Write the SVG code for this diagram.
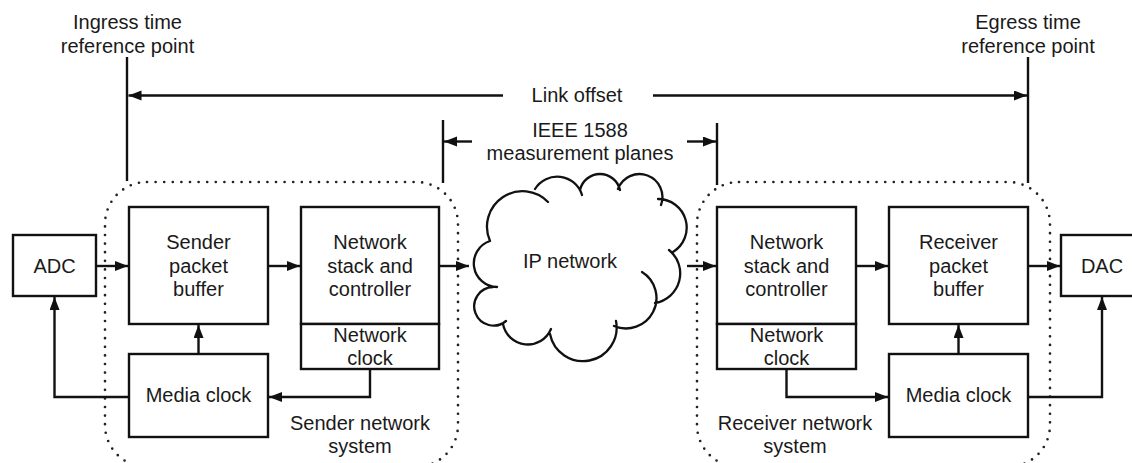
<svg xmlns="http://www.w3.org/2000/svg" width="1132" height="463" viewBox="0 0 1132 463">
  <defs>
    <marker id="arrow" markerUnits="userSpaceOnUse" markerWidth="14" markerHeight="12" refX="13" refY="5" orient="auto">
      <path d="M0,0 L13,5 L0,10 z" fill="#111"/>
    </marker>
    <style>
      .box { fill: #fff; stroke: #111; stroke-width: 2.4; }
      .dot { fill: none; stroke: #222; stroke-width: 2.7; stroke-linecap: round; stroke-dasharray: 0 8.6; }
      .ln { fill: none; stroke: #111; stroke-width: 2.4; }
      .arr { fill: none; stroke: #111; stroke-width: 2.4; marker-end: url(#arrow); }
      .cloud { fill: none; stroke: #111; stroke-width: 2.3; stroke-linecap: round; }
      text { font-family: "Liberation Sans", Arial, sans-serif; font-size: 20px; fill: #1a1a1a; text-anchor: middle; }
    </style>
  </defs>
  <rect width="1132" height="463" fill="#fff"/>

  <!-- system boundaries -->
  <g id="sender-system">
    <rect class="dot" x="105" y="182" width="353" height="285" rx="42"/>
    <text x="360" y="430">Sender network</text>
    <text x="360" y="453">system</text>
  </g>
  <g id="receiver-system">
    <rect class="dot" x="697" y="182" width="353" height="285" rx="42"/>
    <text x="795" y="430">Receiver network</text>
    <text x="795" y="453">system</text>
  </g>

  <!-- reference labels -->
  <g id="ingress">
    <text x="127.5" y="29">Ingress time</text>
    <text x="127.5" y="52.5">reference point</text>
    <path class="ln" d="M127,57 V181"/>
  </g>
  <g id="egress">
    <text x="1028" y="29">Egress time</text>
    <text x="1028" y="52.5">reference point</text>
    <path class="ln" d="M1028,57 V183"/>
  </g>
  <g id="link-offset">
    <text x="577" y="102">Link offset</text>
  </g>
  <g id="ieee1588">
    <text x="580" y="137">IEEE 1588</text>
    <text x="580" y="160">measurement planes</text>
    <path class="ln" d="M443,120 V183"/>
    <path class="ln" d="M717,123 V185"/>
  </g>

  <!-- nodes -->
  <g id="adc">
    <rect class="box" x="13" y="235" width="83" height="61"/>
    <text x="54.5" y="273">ADC</text>
  </g>
  <g id="sender-buffer">
    <rect class="box" x="129" y="207" width="139" height="117"/>
    <text x="198.5" y="249">Sender</text>
    <text x="198.5" y="272.5">packet</text>
    <text x="198.5" y="296">buffer</text>
  </g>
  <g id="sender-stack">
    <rect class="box" x="301" y="207" width="138" height="117"/>
    <text x="370" y="249">Network</text>
    <text x="370" y="272.5">stack and</text>
    <text x="370" y="296">controller</text>
  </g>
  <g id="sender-netclock">
    <rect class="box" x="301" y="324" width="138" height="45"/>
    <text x="370" y="342">Network</text>
    <text x="370" y="365">clock</text>
  </g>
  <g id="sender-mediaclock">
    <rect class="box" x="129" y="354" width="139" height="83"/>
    <text x="198.5" y="402">Media clock</text>
  </g>
  <g id="ip-network">
    <path class="cloud" d="M497,287 A23.6,23.6 0 0 1 490,241
      M490,241 A35.5,35.5 0 0 1 548,202
      M535,189 A26,26 0 0 1 582,195
      M580,190 A20.5,20.5 0 0 1 620,190
      M618,189 A22.2,22.2 0 0 1 661,205
      M658,199 A28.6,28.6 0 0 1 673,252
      M669,250 A30,30 0 0 1 655,303
      M642,272 A30.5,30.5 0 0 1 614,326
      M616,321 A33,33 0 0 1 550,334
      M551,329 A25.2,25.2 0 0 1 503,324
      M506,321 A19.3,19.3 0 1 1 493,287"/>
    <text x="570" y="268">IP network</text>
  </g>
  <g id="receiver-stack">
    <rect class="box" x="717" y="207" width="139" height="117"/>
    <text x="786.5" y="249">Network</text>
    <text x="786.5" y="272.5">stack and</text>
    <text x="786.5" y="296">controller</text>
  </g>
  <g id="receiver-netclock">
    <rect class="box" x="717" y="324" width="139" height="45"/>
    <text x="786.5" y="342">Network</text>
    <text x="786.5" y="365">clock</text>
  </g>
  <g id="receiver-buffer">
    <rect class="box" x="889" y="207" width="139" height="117"/>
    <text x="958.5" y="249">Receiver</text>
    <text x="958.5" y="272.5">packet</text>
    <text x="958.5" y="296">buffer</text>
  </g>
  <g id="receiver-mediaclock">
    <rect class="box" x="889" y="354" width="139" height="83"/>
    <text x="958.5" y="402">Media clock</text>
  </g>
  <g id="dac">
    <rect class="box" x="1061" y="235" width="83" height="61"/>
    <text x="1102" y="273">DAC</text>
  </g>

  <!-- connectors -->
  <g id="connectors">
    <path class="arr" d="M503,95.5 H128.5"/>
    <path class="arr" d="M653,95.5 H1027"/>
    <path class="arr" d="M472,141.5 H444"/>
    <path class="arr" d="M687,141.5 H716"/>
    <path class="arr" d="M96,266 H128"/>
    <path class="arr" d="M268,266 H300"/>
    <path class="arr" d="M439,266 H469"/>
    <path class="arr" d="M687,266 H716"/>
    <path class="arr" d="M856,266 H888"/>
    <path class="arr" d="M1028,266 H1060"/>
    <path class="arr" d="M198.5,354 V325"/>
    <path class="arr" d="M129,397 H54.5 V297"/>
    <path class="arr" d="M370,369 V397 H269"/>
    <path class="arr" d="M786.5,369 V397 H888"/>
    <path class="arr" d="M958.5,354 V325"/>
    <path class="arr" d="M1028,397 H1102 V297"/>
  </g>
</svg>
